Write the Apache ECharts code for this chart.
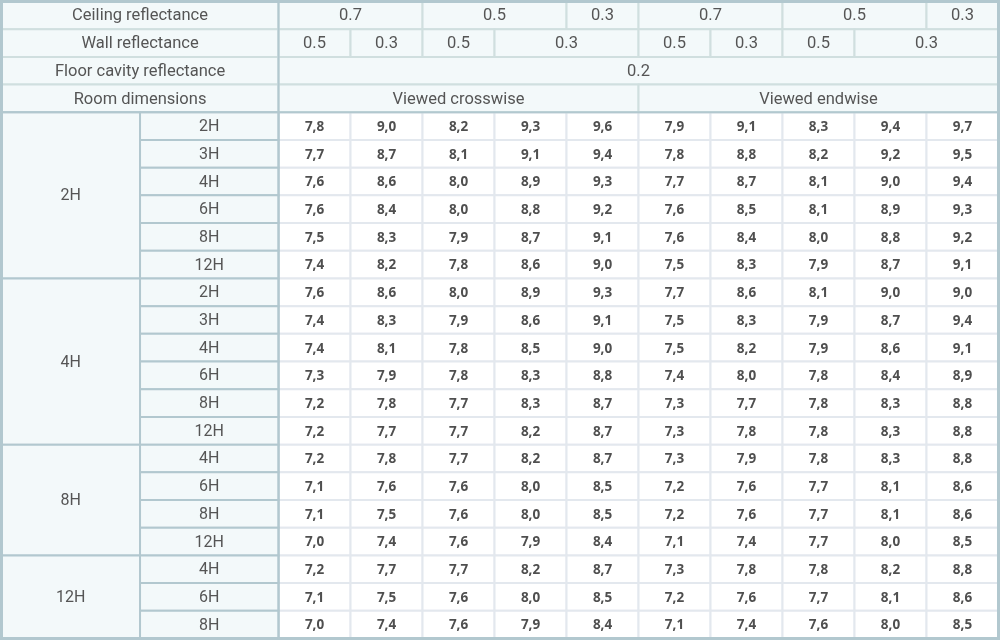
<!DOCTYPE html>
<html>
<head>
<meta charset="utf-8">
<script src="https://cdn.jsdelivr.net/npm/echarts@6/dist/echarts.min.js"></script>
<style>
html, body { margin: 0; padding: 0; background: #fff; }
#chart { width: 1000px; height: 640px; }
</style>
</head>
<body>
<div id="chart"></div>
<script>
// header rows
var headerLabels = ['Ceiling reflectance', 'Wall reflectance', 'Floor cavity reflectance', 'Room dimensions'];
var ceilingValues = ['0.7', '0.5', '0.3', '0.7', '0.5', '0.3'];
var ceilingSpans = [2, 2, 1, 2, 2, 1];
var wallValues = ['0.5', '0.3', '0.5', '0.3', '0.5', '0.3', '0.5', '0.3'];
var wallSpans = [1, 1, 1, 2, 1, 1, 1, 2];
var floorValues = ['0.2'];
var floorSpans = [10];
var viewNames = ['Viewed crosswise', 'Viewed endwise'];
var viewSpans = [5, 5];

// room dimensions: groups and their sub rows
var roomGroups = ['2H', '4H', '8H', '12H'];
var roomSubRows = [
  ['2H', '3H', '4H', '6H', '8H', '12H'],
  ['2H', '3H', '4H', '6H', '8H', '12H'],
  ['4H', '6H', '8H', '12H'],
  ['4H', '6H', '8H']
];

// values, one row per sub row (top to bottom)
var crosswise = [
  [7.8, 9.0, 8.2, 9.3, 9.6],
  [7.7, 8.7, 8.1, 9.1, 9.4],
  [7.6, 8.6, 8.0, 8.9, 9.3],
  [7.6, 8.4, 8.0, 8.8, 9.2],
  [7.5, 8.3, 7.9, 8.7, 9.1],
  [7.4, 8.2, 7.8, 8.6, 9.0],
  [7.6, 8.6, 8.0, 8.9, 9.3],
  [7.4, 8.3, 7.9, 8.6, 9.1],
  [7.4, 8.1, 7.8, 8.5, 9.0],
  [7.3, 7.9, 7.8, 8.3, 8.8],
  [7.2, 7.8, 7.7, 8.3, 8.7],
  [7.2, 7.7, 7.7, 8.2, 8.7],
  [7.2, 7.8, 7.7, 8.2, 8.7],
  [7.1, 7.6, 7.6, 8.0, 8.5],
  [7.1, 7.5, 7.6, 8.0, 8.5],
  [7.0, 7.4, 7.6, 7.9, 8.4],
  [7.2, 7.7, 7.7, 8.2, 8.7],
  [7.1, 7.5, 7.6, 8.0, 8.5],
  [7.0, 7.4, 7.6, 7.9, 8.4]
];
var endwise = [
  [7.9, 9.1, 8.3, 9.4, 9.7],
  [7.8, 8.8, 8.2, 9.2, 9.5],
  [7.7, 8.7, 8.1, 9.0, 9.4],
  [7.6, 8.5, 8.1, 8.9, 9.3],
  [7.6, 8.4, 8.0, 8.8, 9.2],
  [7.5, 8.3, 7.9, 8.7, 9.1],
  [7.7, 8.6, 8.1, 9.0, 9.0],
  [7.5, 8.3, 7.9, 8.7, 9.4],
  [7.5, 8.2, 7.9, 8.6, 9.1],
  [7.4, 8.0, 7.8, 8.4, 8.9],
  [7.3, 7.7, 7.8, 8.3, 8.8],
  [7.3, 7.8, 7.8, 8.3, 8.8],
  [7.3, 7.9, 7.8, 8.3, 8.8],
  [7.2, 7.6, 7.7, 8.1, 8.6],
  [7.2, 7.6, 7.7, 8.1, 8.6],
  [7.1, 7.4, 7.7, 8.0, 8.5],
  [7.3, 7.8, 7.8, 8.2, 8.8],
  [7.2, 7.6, 7.7, 8.1, 8.6],
  [7.1, 7.4, 7.6, 8.0, 8.5]
];

// layout: x in "data column" units, y in row units
var LABEL_W = 1.924;
var DATA_X0 = 2 * LABEL_W;
var HEAD_ROWS = 4;
var X_MAX = DATA_X0 + 10;
var Y_MAX = HEAD_ROWS + crosswise.length;

var styles = {
  data: { fill: '#ffffff', stroke: '#e3e8ee', color: '#4f4f4f', font: 'bold 13.5px "Open Sans"' },
  head: { fill: '#f3f9fa', stroke: '#d0dfdf', color: '#555555', font: '16.5px Roboto' },
  label: { fill: '#f3f9fa', stroke: '#b2c8cf', color: '#555555', font: '16px Roboto' }
};

var cells = [];
function addCell(x0, x1, y0, y1, text, kind) {
  cells.push({ x0: x0, x1: x1, y0: y0, y1: y1, text: text, kind: kind });
}
function fmt(v) {
  return v.toFixed(1).replace('.', ',');
}

// data cells first (drawn underneath)
for (var k = 0; k < crosswise.length; k++) {
  var rowVals = crosswise[k].concat(endwise[k]);
  for (var c = 0; c < rowVals.length; c++) {
    addCell(DATA_X0 + c, DATA_X0 + c + 1, HEAD_ROWS + k, HEAD_ROWS + k + 1, fmt(rowVals[c]), 'data');
  }
}

// header rows
var headerRows = [
  [ceilingValues, ceilingSpans],
  [wallValues, wallSpans],
  [floorValues, floorSpans],
  [viewNames, viewSpans]
];
headerRows.forEach(function (hr, r) {
  addCell(0, DATA_X0, r, r + 1, headerLabels[r], 'head');
  var x = DATA_X0;
  hr[0].forEach(function (txt, i) {
    addCell(x, x + hr[1][i], r, r + 1, txt, 'head');
    x += hr[1][i];
  });
});

// room dimension labels
var rowStart = HEAD_ROWS;
roomGroups.forEach(function (g, gi) {
  var subs = roomSubRows[gi];
  subs.forEach(function (s, si) {
    addCell(LABEL_W, DATA_X0, rowStart + si, rowStart + si + 1, s, 'label');
  });
  addCell(0, LABEL_W, rowStart, rowStart + subs.length, g, 'label');
  rowStart += subs.length;
});

// structural frame lines
var frames = [
  [0, X_MAX, 0, Y_MAX],
  [DATA_X0, DATA_X0, 0, Y_MAX],
  [0, X_MAX, HEAD_ROWS, HEAD_ROWS]
];

var chart = echarts.init(document.getElementById('chart'));

chart.setOption({
  animation: false,
  backgroundColor: '#ffffff',
  grid: { left: 1.5, right: 1.5, top: 1.5, bottom: 1.5 },
  xAxis: { type: 'value', min: 0, max: X_MAX, show: false },
  yAxis: { type: 'value', min: 0, max: Y_MAX, inverse: true, show: false },
  series: [
    {
      type: 'custom',
      silent: true,
      clip: false,
      encode: { x: [0, 1], y: [2, 3] },
      data: cells.map(function (c) { return [c.x0, c.x1, c.y0, c.y1]; }),
      renderItem: function (params, api) {
        var cell = cells[params.dataIndex];
        var st = styles[cell.kind];
        var p0 = api.coord([cell.x0, cell.y0]);
        var p1 = api.coord([cell.x1, cell.y1]);
        return {
          type: 'group',
          children: [
            {
              type: 'rect',
              shape: { x: p0[0], y: p0[1], width: p1[0] - p0[0], height: p1[1] - p0[1] },
              style: { fill: st.fill, stroke: st.stroke, lineWidth: 2 }
            },
            {
              type: 'text',
              x: (p0[0] + p1[0]) / 2,
              y: (p0[1] + p1[1]) / 2 + 1,
              style: {
                text: cell.text,
                fill: st.color,
                font: st.font,
                align: 'center',
                verticalAlign: 'middle'
              }
            }
          ]
        };
      }
    },
    {
      type: 'custom',
      silent: true,
      clip: false,
      z: 5,
      encode: { x: [0, 1], y: [2, 3] },
      data: frames,
      renderItem: function (params, api) {
        var p0 = api.coord([api.value(0), api.value(2)]);
        var p1 = api.coord([api.value(1), api.value(3)]);
        if (params.dataIndex === 0) {
          return {
            type: 'rect',
            shape: { x: p0[0], y: p0[1], width: p1[0] - p0[0], height: p1[1] - p0[1] },
            style: { fill: 'none', stroke: '#b2c8cf', lineWidth: 3 }
          };
        }
        return {
          type: 'line',
          shape: { x1: p0[0], y1: p0[1], x2: p1[0], y2: p1[1] },
          style: { stroke: '#b2c8cf', lineWidth: 2 }
        };
      }
    }
  ]
});
</script>
</body>
</html>
